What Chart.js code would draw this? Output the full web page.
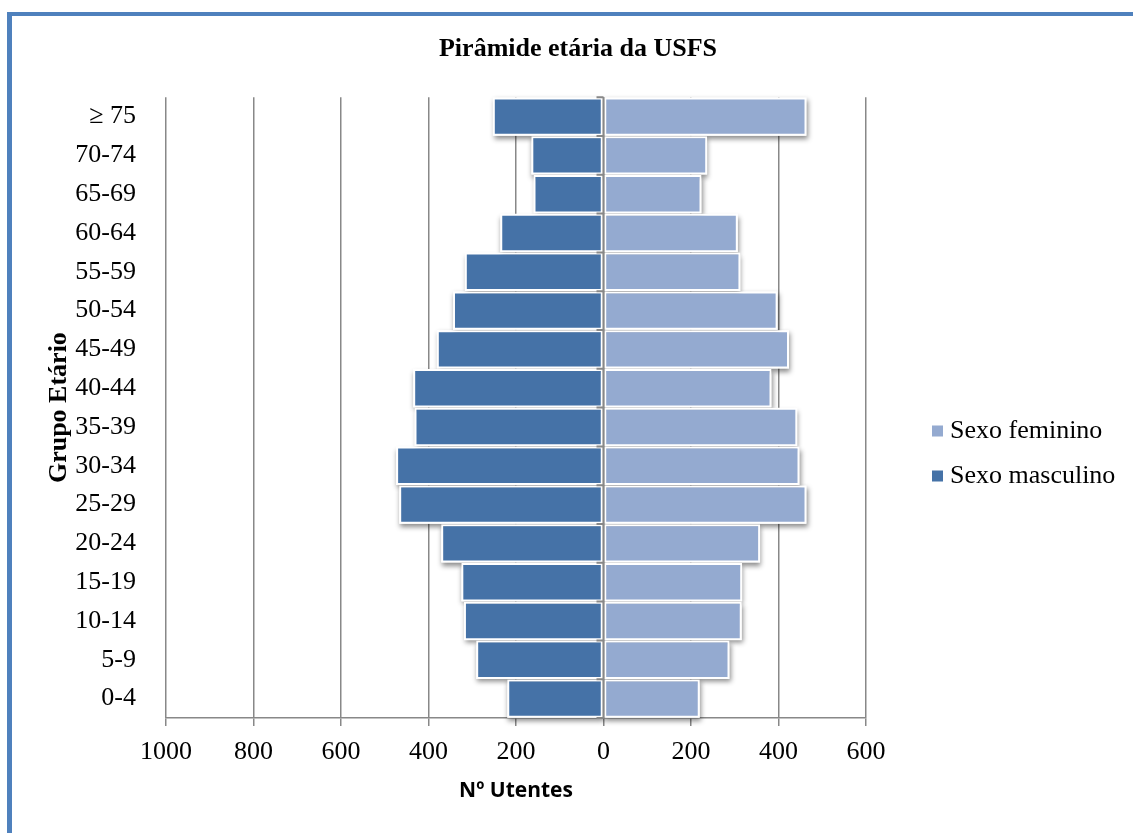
<!DOCTYPE html>
<html lang="pt">
<head>
<meta charset="utf-8">
<title>Pirâmide etária da USFS</title>
<script src="https://cdn.jsdelivr.net/npm/chart.js@4/dist/chart.umd.min.js"></script>
<style>
  html, body { margin: 0; padding: 0; background: #fff; overflow: hidden; }
  .frame {
    position: absolute; left: 7px; top: 12px; width: 1300px; height: 1000px;
    border-top: 4px solid #4f81bd; border-left: 5px solid #4f81bd;
  }
  .chart-wrapper { position: absolute; left: 0; top: 0; width: 1133px; height: 833px; }
</style>
</head>
<body>
<div class="frame"></div>
<div class="chart-wrapper"><canvas id="pyramid"></canvas></div>
<script>
// age groups from youngest (bottom) to oldest (top)
const ageGroups = ["0-4", "5-9", "10-14", "15-19", "20-24", "25-29", "30-34", "35-39",
  "40-44", "45-49", "50-54", "55-59", "60-64", "65-69", "70-74", "\u2265 75"];
const maleCounts = [220, 291, 319, 325, 371, 467, 474, 432, 435, 381, 344, 317, 236, 160, 165, 253];
const femaleCounts = [220, 288, 316, 317, 358, 464, 448, 443, 384, 424, 398, 313, 307, 224, 237, 464];
const xMin = -1000;
const xMax = 600;
const xStep = 200;

const SERIF = '"Liberation Serif", "Times New Roman", serif';
const SANS = '"Open Sans", "Liberation Sans", sans-serif';
const GRID = "#888888";

// soft drop shadow under every bar
const barShadow = {
  id: "barShadow",
  beforeDatasetsDraw(chart) {
    const ctx = chart.ctx;
    ctx.save();
    ctx.shadowColor = "rgba(0,0,0,0.45)";
    ctx.shadowBlur = 5;
    ctx.shadowOffsetX = 1;
    ctx.shadowOffsetY = 3;
    ctx.fillStyle = "#ffffff";
    chart.getSortedVisibleDatasetMetas().forEach((meta) => {
      meta.data.forEach((bar) => {
        const { x, y, base, height } = bar.getProps(["x", "y", "base", "height"], true);
        ctx.fillRect(Math.min(x, base), y - height / 2, Math.abs(x - base), height);
      });
    });
    ctx.restore();
  }
};

// vertical axis at zero, drawn over the bars, with small tick marks
const centerAxis = {
  id: "centerAxis",
  afterDatasetsDraw(chart) {
    const { ctx, chartArea, scales } = chart;
    const x0 = scales.x.getPixelForValue(0);
    const band = (chartArea.bottom - chartArea.top) / ageGroups.length;
    ctx.save();
    ctx.strokeStyle = GRID;
    ctx.lineWidth = 2;
    ctx.beginPath();
    ctx.moveTo(x0, chartArea.top);
    ctx.lineTo(x0, chartArea.bottom);
    for (let i = 0; i <= ageGroups.length; i++) {
      const y = chartArea.top + i * band;
      ctx.moveTo(x0 - 7, y);
      ctx.lineTo(x0, y);
    }
    ctx.stroke();
    ctx.restore();
  }
};

// legend on the right, female first
const sideLegend = {
  id: "sideLegend",
  afterDraw(chart) {
    const { ctx, chartArea } = chart;
    const left = chartArea.right + 66;
    ctx.save();
    ctx.font = "26px " + SERIF;
    ctx.textBaseline = "middle";
    ctx.textAlign = "left";
    chart.data.datasets.forEach((ds, i) => {
      const cy = 431 + i * 45;
      ctx.fillStyle = ds.backgroundColor;
      ctx.fillRect(left, cy - 5.5, 11, 11);
      ctx.fillStyle = "#000";
      ctx.fillText(ds.label, left + 18, cy);
    });
    ctx.restore();
  }
};

new Chart(document.getElementById("pyramid").getContext("2d"), {
  type: "bar",
  data: {
    labels: ageGroups,
    datasets: [
      {
        label: "Sexo feminino",
        data: femaleCounts,
        backgroundColor: "#94aad0",
        borderColor: "#ffffff",
        borderWidth: 2,
        borderSkipped: false
      },
      {
        label: "Sexo masculino",
        data: maleCounts.map((v) => -v),
        backgroundColor: "#4572a7",
        borderColor: "#ffffff",
        borderWidth: 2,
        borderSkipped: false
      }
    ]
  },
  options: {
    indexAxis: "y",
    responsive: true,
    maintainAspectRatio: false,
    animation: false,
    layout: { padding: { left: 23, right: 0, top: 0, bottom: 0 } },
    datasets: { bar: { barPercentage: 0.99, categoryPercentage: 1 } },
    scales: {
      x: {
        stacked: true,
        min: xMin,
        max: xMax,
        ticks: {
          stepSize: xStep,
          color: "#000",
          padding: 11,
          font: { family: SERIF, size: 26 },
          callback: (v) => Math.abs(v)
        },
        grid: { color: GRID, lineWidth: 1.5, tickLength: 8 },
        border: { display: true, color: GRID, width: 1.5 },
        title: {
          display: true,
          text: "N\u00ba Utentes",
          color: "#000",
          font: { family: SANS, size: 21, weight: "bold" },
          padding: { top: 0, bottom: 29 }
        },
        afterFit: (scale) => { scale.height = 115; }
      },
      y: {
        stacked: true,
        reverse: true,
        ticks: {
          color: "#000",
          padding: 22,
          font: { family: SERIF, size: 26 }
        },
        grid: { display: false },
        border: { display: false },
        title: {
          display: true,
          text: "Grupo Etário",
          color: "#000",
          font: { family: SERIF, size: 26, weight: "bold" },
          padding: { top: 21, bottom: 0 }
        },
        afterFit: (scale) => { scale.width = 143; }
      },
      // empty scale that reserves room for the legend
      spacer: {
        type: "linear",
        position: "right",
        display: true,
        grid: { display: false },
        ticks: { display: false },
        border: { display: false },
        afterFit: (scale) => { scale.width = 267; }
      }
    },
    plugins: {
      legend: { display: false },
      tooltip: { enabled: false },
      title: {
        display: true,
        text: "Pirâmide etária da USFS",
        color: "#000",
        font: { family: SERIF, size: 26, weight: "bold" },
        padding: { top: 34, bottom: 32 }
      }
    }
  },
  plugins: [barShadow, centerAxis, sideLegend]
});
</script>
</body>
</html>
